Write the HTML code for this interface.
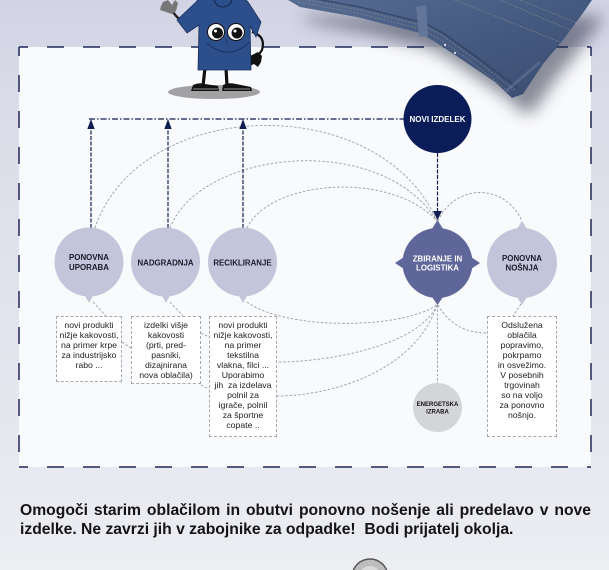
<!DOCTYPE html>
<html><head><meta charset="utf-8">
<style>
html,body{margin:0;padding:0;}
body{width:609px;height:570px;overflow:hidden;position:relative;background:linear-gradient(#d2d3e4 0%,#dbdce9 18%,#e5e6ee 70%,#eceef2 100%);font-family:"Liberation Sans",sans-serif;}
svg{position:absolute;left:0;top:0;}
.box{position:absolute;border:1px dashed #a6a7b0;background:#fff;box-sizing:border-box;text-align:center;font-size:8.7px;line-height:10px;color:#222;padding-top:3px;white-space:nowrap;}
.txt{position:absolute;left:20px;width:571px;font-weight:bold;font-size:15.7px;line-height:19px;color:#141414;white-space:nowrap;}
</style></head><body>
<svg width="609" height="570" viewBox="0 0 609 570">
<defs>
<linearGradient id="den" x1="0" y1="0" x2="1" y2="1">
 <stop offset="0" stop-color="#566c92"/>
 <stop offset="0.5" stop-color="#455a80"/>
 <stop offset="1" stop-color="#3a4c70"/>
</linearGradient>
<filter id="blur" x="-30%" y="-30%" width="160%" height="160%"><feGaussianBlur stdDeviation="8"/></filter>
</defs>

<rect x="19" y="47" width="572" height="420" fill="#f9fafc"/>

<path d="M288,0 L300,7 L357,17 L420,33 L437,43 L467,63 L495,82 L512,98 L523,94 L543,64 L563,40 L583,13 L592,0 Z" transform="translate(12,16)" fill="#3e4256" opacity="0.6" filter="url(#blur)"/>

<g stroke="#1d2758" stroke-width="1.5" fill="none" stroke-dasharray="17 19" stroke-dashoffset="8">
<line x1="19" y1="47" x2="591" y2="47"/>
<line x1="19" y1="467" x2="591" y2="467"/>
<line x1="19" y1="47" x2="19" y2="467"/>
<line x1="591" y1="47" x2="591" y2="467"/>
</g>

<g stroke="#9a9ca8" stroke-width="0.9" fill="none" stroke-dasharray="2.5 1.8">
<path d="M95,228 C140,95 380,90 437,221"/>
<path d="M170,228 C200,150 380,130 437,221"/>
<path d="M247,228 C270,180 390,170 437,221"/>
<path d="M438,221 C455,183 505,183 522,221"/>
<path d="M247,302 C285,330 400,330 437,305"/>
<path d="M437,305 C420,345 330,362 277,362"/>
<path d="M437,305 C415,372 330,396 277,396"/>
<path d="M438,305 C450,326 468,333 487,333"/>
<path d="M93,302 L106,316"/>
<path d="M170,302 L183,316"/>
<path d="M521,304 L513,316"/>
<path d="M122,342 L131,348"/>
<path d="M201,333 L209,337"/>
<path d="M201,385 L209,389"/>
<path d="M437.5,305 L437.5,384"/>
</g>

<g stroke="#0f1e52" stroke-width="1.2" fill="none">
<path d="M89,119 L404,119" stroke-dasharray="6 2 1.5 2"/>
<path d="M91,228 L91,127 M168,228 L168,127 M243,228 L243,127" stroke-dasharray="4 1.5"/>
<path d="M437.5,153 L437.5,212" stroke-dasharray="4 1.5"/>
</g>
<g fill="#0f1e52">
<polygon points="87.3,129 94.7,129 91,119"/>
<polygon points="164.3,129 171.7,129 168,119"/>
<polygon points="239.3,129 246.7,129 243,119"/>
<polygon points="433,211 442,211 437.5,220"/>
</g>

<g fill="#c3c5da">
<circle cx="89" cy="262" r="34.5"/><polygon points="83,292 95,292 89,303"/>
<circle cx="165.5" cy="262" r="34.5"/><polygon points="160,292 172,292 166,303"/>
<circle cx="242.5" cy="262" r="34.5"/><polygon points="237,292 249,292 243,303"/>
<circle cx="522" cy="263" r="35"/><polygon points="515,232 529,232 522,221"/><polygon points="515,294 529,294 522,305"/>
</g>
<g fill="#5f6699">
<circle cx="437.5" cy="263" r="35"/>
<polygon points="430,232 445,232 437.5,220"/>
<polygon points="430,294 445,294 437.5,305"/>
<polygon points="407,255 407,271 395,263"/>
<polygon points="468,255 468,271 480,263"/>
</g>
<circle cx="437.5" cy="119" r="34" fill="#0b1d58"/>
<circle cx="437.5" cy="407.5" r="24.5" fill="#d4d5d8"/>

<g font-family="Liberation Sans, sans-serif" font-weight="bold" text-anchor="middle" font-size="7.9" fill="#1a1a28">
<text x="89" y="260">PONOVNA</text>
<text x="89" y="270">UPORABA</text>
<text x="165.5" y="265.5">NADGRADNJA</text>
<text x="242.5" y="265.5">RECIKLIRANJE</text>
<text x="522" y="261">PONOVNA</text>
<text x="522" y="270.5">NOŠNJA</text>
<text x="437.5" y="122" fill="#fff" font-size="8">NOVI IZDELEK</text>
<text x="437.5" y="261.5" fill="#fff">ZBIRANJE IN</text>
<text x="437.5" y="270.5" fill="#fff">LOGISTIKA</text>
<text x="437.5" y="406" font-size="6" fill="#111">ENERGETSKA</text>
<text x="437.5" y="413.5" font-size="6" fill="#111">IZRABA</text>
</g>

<path d="M288,0 L300,7 L357,17 L420,33 L437,43 L467,63 L495,82 L512,98 L523,94 L543,64 L563,40 L583,13 L592,0 Z" fill="url(#den)"/>
<path d="M300,-4 L360,7 L424,23 L443,33 L474,55 L518,88" stroke="#2a3858" stroke-width="1.2" fill="none" opacity="0.7"/>
<g stroke="#a79d88" stroke-width="0.8" fill="none" stroke-dasharray="2 1.5" opacity="0.55">
<path d="M298,2 L357,13 L421,29 L439,39 L468,59 L510,93"/>
<path d="M302,-1 L360,10 L424,26 L443,36 L473,58 L516,91"/>
<path d="M455,0 L560,42"/>
<path d="M500,0 L575,32"/>
<path d="M520,0 L582,25"/>
</g>
<polygon points="416,7 426,5 428,36 419,37" fill="#65799c" opacity="0.9"/>
<circle cx="445" cy="45" r="1.1" fill="#dfe3ea"/>
<circle cx="455" cy="53" r="1.1" fill="#dfe3ea"/>
<path d="M505,92 L540,62" stroke="#687ca0" stroke-width="3" opacity="0.5"/>

<g>
<ellipse cx="214" cy="92" rx="46" ry="7" fill="#a2a2a4"/>
<path d="M205,68 L203,86 M226,68 L227,86" stroke="#111" stroke-width="3.2" fill="none"/>
<path d="M191,91 L193,85 Q199,82 205,84 L218,86 L219,91 Z" fill="#111"/>
<path d="M222,91 L223,85 Q229,82 236,84 L251,87 L252,91 Z" fill="#111"/>
<path d="M193,89 L218,89 M224,89 L250,89" stroke="#bbb" stroke-width="0.8"/>
<path d="M184,22 Q176,18 172,10" stroke="#222" stroke-width="2.5" fill="none"/>
<path d="M163,2 L168,0 L172,5 L175,0 L178,3 L176,11 L172,14 L166,12 L160,10 L161,6 Z" fill="#777"/>
<path d="M252,32 Q266,36 262,50 Q258,56 256,58" stroke="#111" stroke-width="2.2" fill="none"/>
<path d="M250,56 L258,52 L262,56 L261,62 L258,67 L254,64 L250,66 L248,60 Z" fill="#111"/>
<path d="M200,-2 L195,3 L177,20 L187,33 L199,25 L198,70 L251,70 L250,26 L256,37 L261,22 L248,2 L244,-2 Z" fill="#2c4e8b" stroke="#1a2f5e" stroke-width="0.8"/>
<circle cx="223" cy="-2" r="9" fill="#2c4e8b" stroke="#1a2f5e" stroke-width="1.5"/>
<circle cx="216" cy="32" r="8.5" fill="#fff" stroke="#111" stroke-width="1"/>
<circle cx="236" cy="32" r="8.5" fill="#fff" stroke="#111" stroke-width="1"/>
<circle cx="217.5" cy="33" r="5.5" fill="#111"/>
<circle cx="237" cy="33" r="5.5" fill="#111"/>
<circle cx="215.5" cy="31" r="1.5" fill="#fff"/>
<circle cx="235" cy="31" r="1.5" fill="#fff"/>
<path d="M207,43 Q228,62 250,42" stroke="#1a2f5e" stroke-width="1" fill="none"/>
<path d="M227,39 q-2,4 1,5" stroke="#1a2f5e" stroke-width="0.8" fill="none"/>
</g>

<ellipse cx="370" cy="577" rx="18" ry="18" fill="#bdbdbd" stroke="#555" stroke-width="1.5"/>
<ellipse cx="370" cy="580" rx="12" ry="14" fill="#d9d9d9"/>
</svg>

<div class="box" style="left:56px;top:316px;width:66px;height:66px;">novi produkti<br>nižje kakovosti,<br>na primer krpe<br>za industrijsko<br>rabo ...</div>
<div class="box" style="left:131px;top:316px;width:70px;height:68px;">izdelki višje<br>kakovosti<br>(prti, pred-<br>pasniki,<br>dizajnirana<br>nova oblačila)</div>
<div class="box" style="left:209px;top:316px;width:68px;height:121px;">novi produkti<br>nižje kakovosti,<br>na primer<br>tekstilna<br>vlakna, filci ...<br>Uporabimo<br>jih&nbsp; za izdelava<br>polnil za<br>igrače, polnil<br>za športne<br>copate ..</div>
<div class="box" style="left:487px;top:316px;width:70px;height:121px;">Odslužena<br>oblačila<br>popravimo,<br>pokrpamo<br>in osvežimo.<br>V posebnih<br>trgovinah<br>so na voljo<br>za ponovno<br>nošnjo.</div>

<div class="txt" style="top:501px;text-align:justify;text-align-last:justify;white-space:normal;">Omogoči starim oblačilom in obutvi ponovno nošenje ali predelavo v nove</div>
<div class="txt" style="top:520px;">izdelke. Ne zavrzi jih v zabojnike za odpadke!&nbsp; Bodi prijatelj okolja.</div>
</body></html>
